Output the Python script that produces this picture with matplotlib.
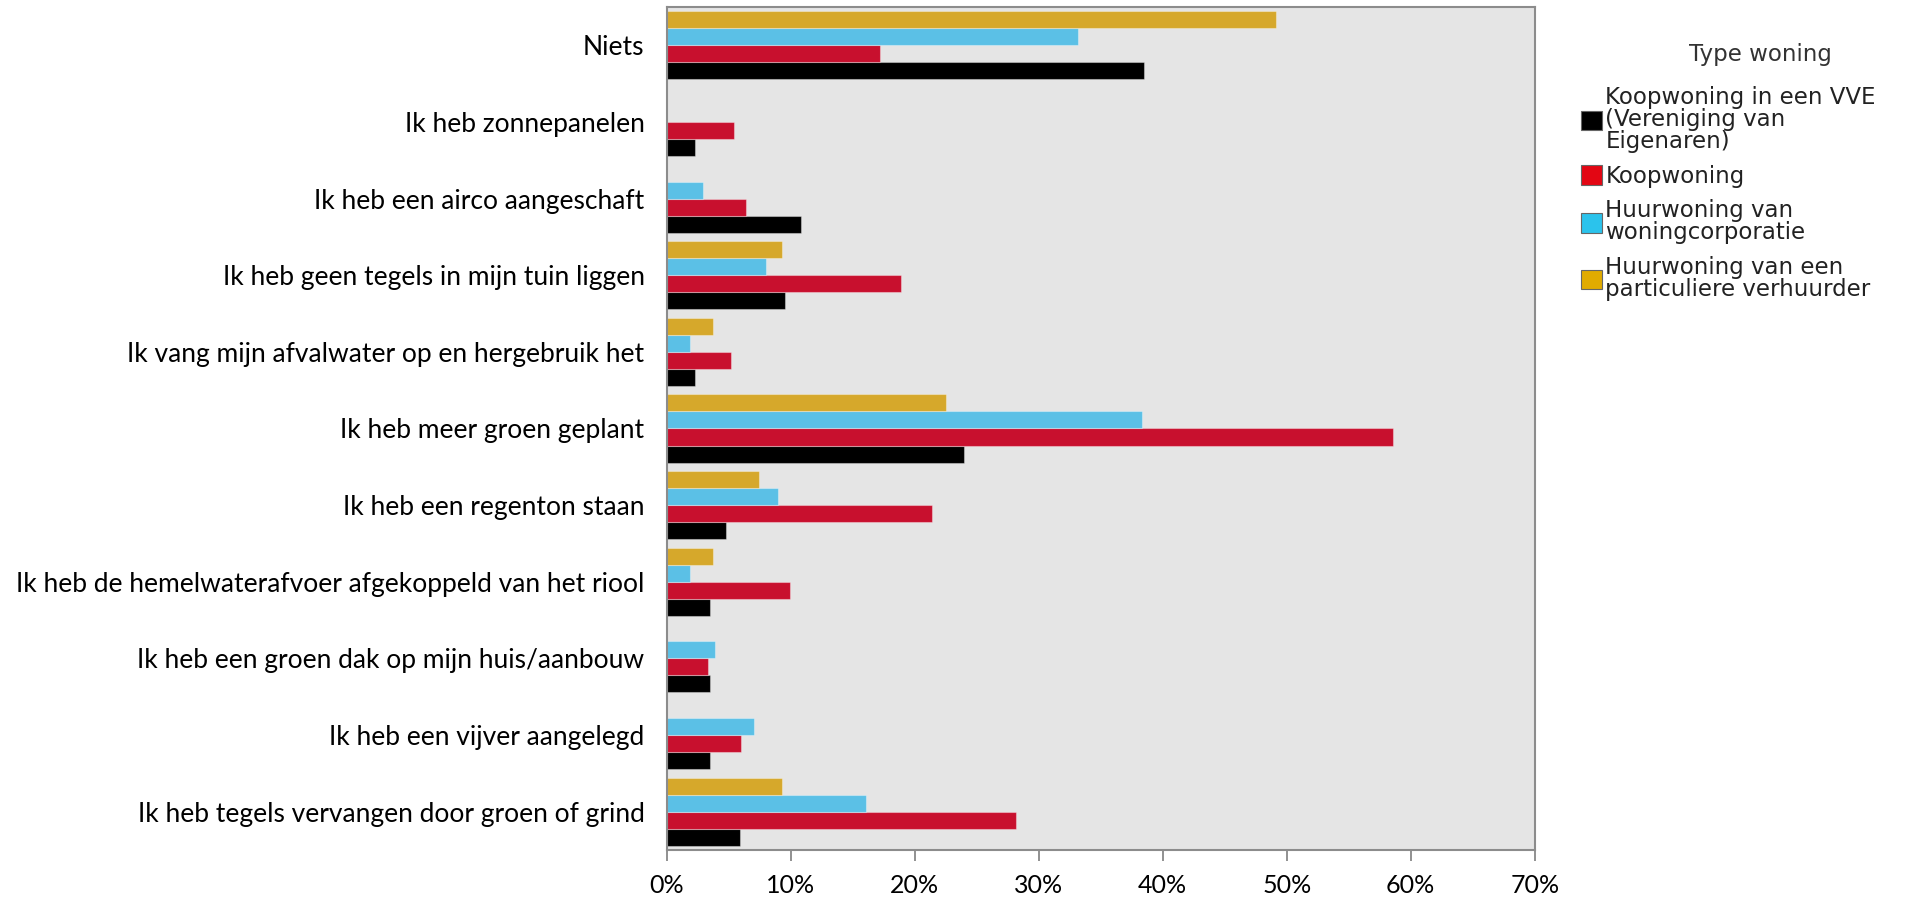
import numpy as np
import matplotlib
matplotlib.use('Agg')
import matplotlib.pyplot as plt
from matplotlib.patches import Patch
from matplotlib.ticker import PercentFormatter

# categories, top to bottom as in the chart
categories = [
    'Niets',
    'Ik heb zonnepanelen',
    'Ik heb een airco aangeschaft',
    'Ik heb geen tegels in mijn tuin liggen',
    'Ik vang mijn afvalwater op en hergebruik het',
    'Ik heb meer groen geplant',
    'Ik heb een regenton staan',
    'Ik heb de hemelwaterafvoer afgekoppeld van het riool',
    'Ik heb een groen dak op mijn huis/aanbouw',
    'Ik heb een vijver aangelegd',
    'Ik heb tegels vervangen door groen of grind',
]

series_labels = [
    'Koopwoning in een VVE\n(Vereniging van\nEigenaren)',
    'Koopwoning',
    'Huurwoning van\nwoningcorporatie',
    'Huurwoning van een\nparticuliere verhuurder',
]

# percentages
vve = [38.5, 2.3, 10.8, 9.5, 2.3, 24.0, 4.8, 3.5, 3.5, 3.5, 5.9]
koop = [17.2, 5.4, 6.4, 18.9, 5.2, 58.6, 21.4, 9.9, 3.3, 6.0, 28.2]
corporatie = [33.2, 0, 2.9, 8.0, 1.9, 38.3, 9.0, 1.9, 3.9, 7.0, 16.1]
particulier = [49.1, 0, 0, 9.3, 3.7, 22.5, 7.4, 3.7, 0, 0, 9.3]

bar_colors = ['#000000', '#C8102E', '#5BC0E6', '#D6A82B']
legend_colors = ['#000000', '#E30613', '#2BC3EC', '#E1AB00']

fig = plt.figure(figsize=(19.16, 9), dpi=100)
fig.patch.set_facecolor('white')
ax = fig.add_axes([0.348, 0.0556, 0.453, 0.9366])
ax.set_facecolor('#E5E5E5')

y = np.arange(len(categories))
h = 0.222
offsets = [1.5 * h, 0.5 * h, -0.5 * h, -1.5 * h]  # black lowest, gold on top
for vals, col, off in zip([vve, koop, corporatie, particulier], bar_colors, offsets):
    ax.barh(y + off, vals, height=h, color=col, edgecolor=(1, 1, 1, 0.35), linewidth=0.8)

ax.set_ylim(len(categories) - 0.5, -0.5)
ax.set_xlim(0, 70)
ax.set_xticks(np.arange(0, 71, 10))
ax.xaxis.set_major_formatter(PercentFormatter(decimals=0))
ax.set_yticks(y)
ax.set_yticklabels(categories, fontfamily='Lato', fontsize=19)
for lab in ax.get_xticklabels():
    lab.set_fontfamily('Lato')
    lab.set_fontsize(18)
ax.tick_params(axis='y', length=0, pad=16)
ax.tick_params(axis='x', length=8, width=1.3, color='#888888', pad=9)
for s in ax.spines.values():
    s.set_color('#8C8C8C')
    s.set_linewidth(1.5)

# legend title as separate text, legend below it
fig.text(0.9186, 0.940, 'Type woning', ha='center', va='center',
         fontfamily='DejaVu Sans', fontsize=16.5, color='#333333')
handles = [Patch(facecolor=c, edgecolor='#666666', linewidth=0.8) for c in legend_colors]
leg = fig.legend(handles, series_labels, loc='upper left',
                 bbox_to_anchor=(0.817, 0.922), frameon=False,
                 prop={'family': 'DejaVu Sans', 'size': 16.5},
                 handlelength=0.9, handleheight=0.9, handletextpad=0.15,
                 labelspacing=0.5, borderpad=0.2)
for t in leg.get_texts():
    t.set_linespacing(0.95)
    t.set_color('#222222')

plt.savefig('out.png', dpi=100, facecolor='white')
plt.close()
